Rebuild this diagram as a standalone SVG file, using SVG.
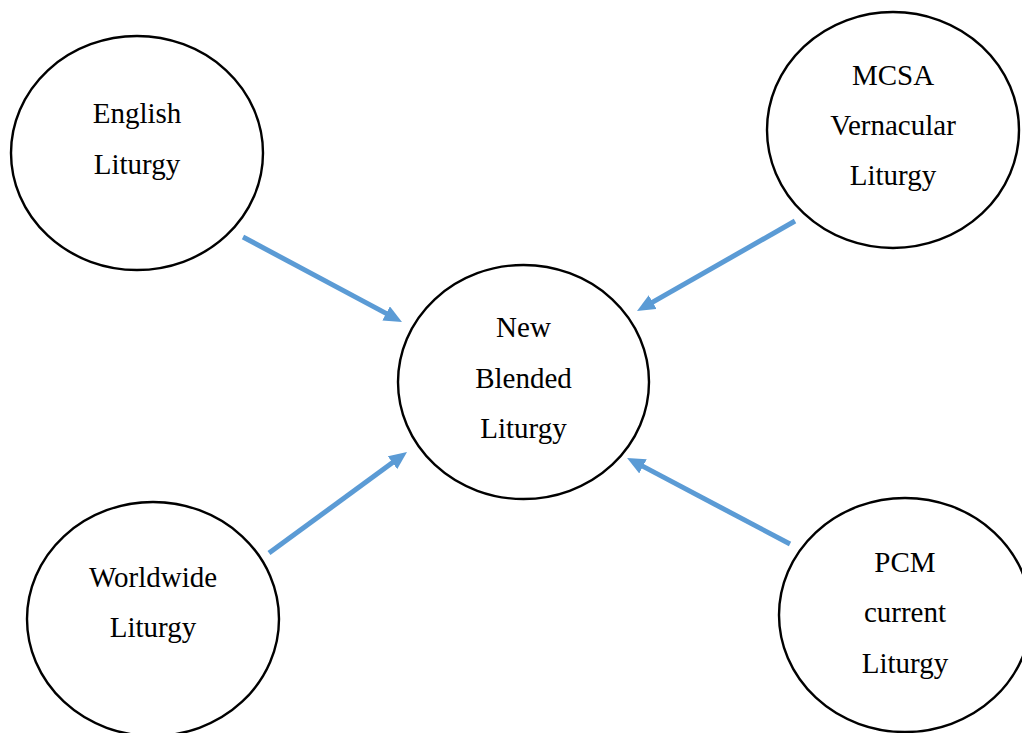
<svg xmlns="http://www.w3.org/2000/svg" width="1022" height="733" viewBox="0 0 1022 733">
<style>
.node ellipse{fill:#fff;stroke:#000;stroke-width:2.4}
.node text{font-family:"Liberation Serif","Times New Roman",serif;font-size:29px;fill:#000;text-anchor:middle}
.conn line{stroke:#5B9BD5;stroke-width:5;fill:none;marker-end:url(#ah)}
</style>
<defs>
<marker id="ah" viewBox="0 0 18 16" markerUnits="userSpaceOnUse" markerWidth="18" markerHeight="16" refX="1" refY="8" orient="auto">
<path d="M0,0 L18,8 L0,16 z" fill="#5B9BD5"/>
</marker>
</defs>
<rect width="1022" height="733" fill="#fff"/>
<g id="english" class="node">
<ellipse cx="137" cy="153" rx="126" ry="117"/>
<text x="137" y="123">English</text>
<text x="137" y="174">Liturgy</text>
</g>
<g id="mcsa" class="node">
<ellipse cx="893" cy="130" rx="126" ry="118"/>
<text x="893" y="85">MCSA</text>
<text x="893" y="135">Vernacular</text>
<text x="893" y="185">Liturgy</text>
</g>
<g id="blended" class="node">
<ellipse cx="523.5" cy="382" rx="125.5" ry="117"/>
<text x="523.5" y="337">New</text>
<text x="523.5" y="388">Blended</text>
<text x="523.5" y="438">Liturgy</text>
</g>
<g id="worldwide" class="node">
<ellipse cx="153" cy="619" rx="126" ry="117"/>
<text x="153" y="587">Worldwide</text>
<text x="153" y="637">Liturgy</text>
</g>
<g id="pcm" class="node">
<ellipse cx="905" cy="615" rx="126" ry="117"/>
<text x="905" y="572">PCM</text>
<text x="905" y="622">current</text>
<text x="905" y="673">Liturgy</text>
</g>
<g id="connectors" class="conn">
<line x1="243" y1="237" x2="387" y2="313.9"/>
<line x1="795" y1="221" x2="651.8" y2="302.6"/>
<line x1="269" y1="553" x2="393.3" y2="462.1"/>
<line x1="790" y1="544" x2="642.1" y2="465.9"/>
</g>
</svg>
